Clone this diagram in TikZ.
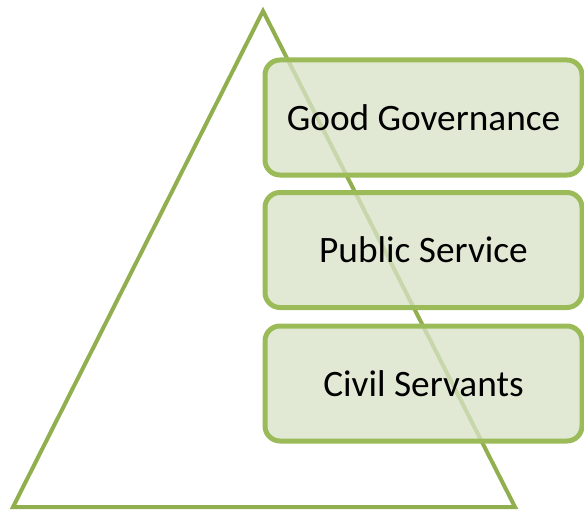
\documentclass[tikz,border=0pt]{standalone}
\usepackage{fontspec}
\setmainfont{Carlito}
\definecolor{trigreen}{RGB}{146,175,80}
\definecolor{boxgreen}{RGB}{155,187,89}
\definecolor{boxfill}{RGB}{216,226,199}
\tikzset{
  level/.style={draw=boxgreen, line width=5pt, fill=boxfill, fill opacity=0.77,
    text opacity=1, rounded corners=15pt, minimum width=317pt,
    minimum height=115pt, inner sep=0pt,
    font=\fontsize{37.3}{44}\selectfont}
}
\begin{document}
\begin{tikzpicture}[x=1pt, y=-1pt]
  \useasboundingbox (0, 0) rectangle (584, 511);
  \coordinate (apex) at (263, 11);
  \coordinate (baseL) at (13, 507);
  \coordinate (baseR) at (515, 507);
  \draw [trigreen, line width = 4pt, line join = miter] (apex) -- (baseR) -- (baseL) -- cycle;
  \node [level] (gov) at (423.5, 117.5) {Good Governance};
  \node [level] (pub) at (423.5, 250) {Public Service};
  \node [level] (civ) at (423.5, 383.5) {Civil Servants};
\end{tikzpicture}
\end{document}
